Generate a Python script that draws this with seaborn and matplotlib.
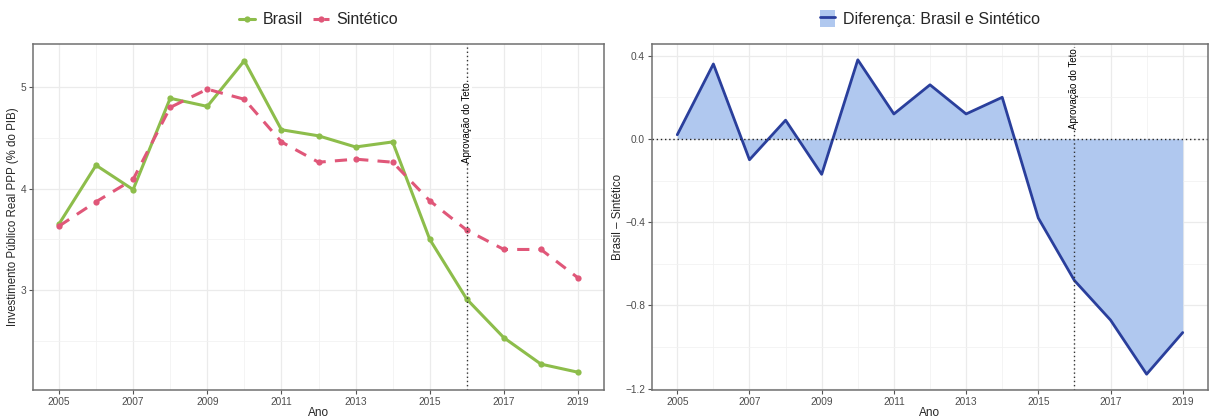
import numpy as np
import pandas as pd
import seaborn as sns
import matplotlib
matplotlib.use("Agg")
from matplotlib import pyplot as plt
from matplotlib.patches import Patch
from matplotlib.lines import Line2D
from matplotlib.legend_handler import HandlerTuple
from matplotlib.ticker import MultipleLocator

# dados
anos = list(range(2005, 2020))
brasil = [3.65, 4.23, 3.99, 4.89, 4.81, 5.26, 4.58, 4.52, 4.41, 4.46, 3.50, 2.91, 2.53, 2.27, 2.19]
sintetico = [3.63, 3.87, 4.09, 4.80, 4.98, 4.88, 4.46, 4.26, 4.29, 4.26, 3.88, 3.59, 3.40, 3.40, 3.12]
ano_teto = 2016
texto_teto = "Aprovação do Teto"

diff = np.array(brasil) - np.array(sintetico)

verde = "#8dbd4b"
rosa = "#e05779"
azul = "#2a3f9c"
azul_claro = "#b0c8ef"

sns.set_theme(style="white")
plt.rcParams['font.family'] = ['Liberation Sans', 'DejaVu Sans']

df = pd.DataFrame({
    "Ano": anos * 2,
    "valor": brasil + sintetico,
    "serie": ["Brasil"] * len(anos) + ["Sintético"] * len(anos),
})

fig = plt.figure(figsize=(12.09, 4.17), dpi=100)
ax1 = fig.add_axes([33 / 1209, 1 - 390 / 417, (604 - 33) / 1209, (390 - 44) / 417])
ax2 = fig.add_axes([652 / 1209, 1 - 390 / 417, (1208 - 652) / 1209, (390 - 44) / 417])


def estilo(ax):
    ax.set_axisbelow(True)
    ax.xaxis.set_major_locator(MultipleLocator(2))
    ax.xaxis.set_minor_locator(MultipleLocator(1))
    ax.grid(True, which="major", color="#ebebeb", lw=0.9)
    ax.grid(True, which="minor", color="#f2f2f2", lw=0.6)
    for s in ax.spines.values():
        s.set_color("#707070")
        s.set_linewidth(1.1)
    ax.tick_params(which="major", length=3, width=0.8, color="#555555",
                   labelsize=7.3, labelcolor="#4d4d4d", left=True, bottom=True, pad=2)
    ax.tick_params(which="minor", length=0)
    ax.set_xlabel("Ano", fontsize=8.5, labelpad=0)


# painel esquerdo
sns.lineplot(data=df, x="Ano", y="valor", hue="serie", style="serie",
             palette={"Brasil": verde, "Sintético": rosa},
             dashes={"Brasil": "", "Sintético": (4, 3)},
             markers={"Brasil": "o", "Sintético": "o"},
             markersize=4.5, markeredgewidth=0, lw=2.2, ax=ax1, legend=False)
ax1.set_xlim(2004.3, 2019.7)
ax1.set_ylim(2.015, 5.425)
ax1.yaxis.set_major_locator(MultipleLocator(1))
ax1.yaxis.set_minor_locator(MultipleLocator(0.5))
estilo(ax1)
ax1.set_xticks(range(2005, 2020, 2))
ax1.set_ylabel("Investimento Público Real PPP (% do PIB)", fontsize=8.3)
ax1.yaxis.set_label_coords(-0.025, 0.5)
ax1.axvline(ano_teto, color="#333333", ls=(0, (1, 2)), lw=1)
ax1.text(ano_teto, 4.65, texto_teto, rotation=90, ha="center", va="center",
         fontsize=7, color="black",
         bbox=dict(facecolor="white", edgecolor="none", pad=0.3))
h1 = [Line2D([], [], color=verde, lw=2.2, marker="o", markersize=4.5, markeredgewidth=0),
      Line2D([], [], color=rosa, lw=2.2, ls=(0, (2, 1.5)), marker="o", markersize=4.5, markeredgewidth=0)]
ax1.legend(h1, ["Brasil", "Sintético"], loc="lower center", bbox_to_anchor=(0.5, 1.03),
           ncol=2, frameon=False, fontsize=11.5, handlelength=1.0, columnspacing=0.6,
           handletextpad=0.5, borderaxespad=0)

# painel direito
ax2.fill_between(anos, 0, diff, color=azul_claro, lw=0)
sns.lineplot(x=anos, y=diff, color=azul, lw=2, ax=ax2)
ax2.set_xlim(2004.3, 2019.7)
ax2.set_ylim(-1.206, 0.456)
ax2.yaxis.set_major_locator(MultipleLocator(0.4))
ax2.yaxis.set_minor_locator(MultipleLocator(0.2))
estilo(ax2)
ax2.set_xticks(range(2005, 2020, 2))
ax2.set_yticks([-1.2, -0.8, -0.4, 0.0, 0.4])
ax2.set_yticklabels(["\u22121.2", "\u22120.8", "\u22120.4", "0.0", "0.4"])
ax2.set_ylabel("Brasil \u2013 Sintético", fontsize=8.3)
ax2.yaxis.set_label_coords(-0.05, 0.5)
ax2.axhline(0, color="#222222", ls=(0, (1, 2)), lw=1)
ax2.axvline(ano_teto, color="#333333", ls=(0, (1, 2)), lw=1)
ax2.text(ano_teto, 0.24, texto_teto, rotation=90, ha="center", va="center",
         fontsize=7, color="black",
         bbox=dict(facecolor="white", edgecolor="none", pad=0.3))
h2 = (Patch(facecolor=azul_claro, edgecolor="none"), Line2D([], [], color=azul, lw=2))
ax2.legend([h2], ["Diferença: Brasil e Sintético"], handler_map={tuple: HandlerTuple(ndivide=1)},
           loc="lower center", bbox_to_anchor=(0.5, 1.03), frameon=False, fontsize=11.5,
           handlelength=1.0, handleheight=1.3, handletextpad=0.5, borderaxespad=0)

fig.savefig("out.png", dpi=100)
